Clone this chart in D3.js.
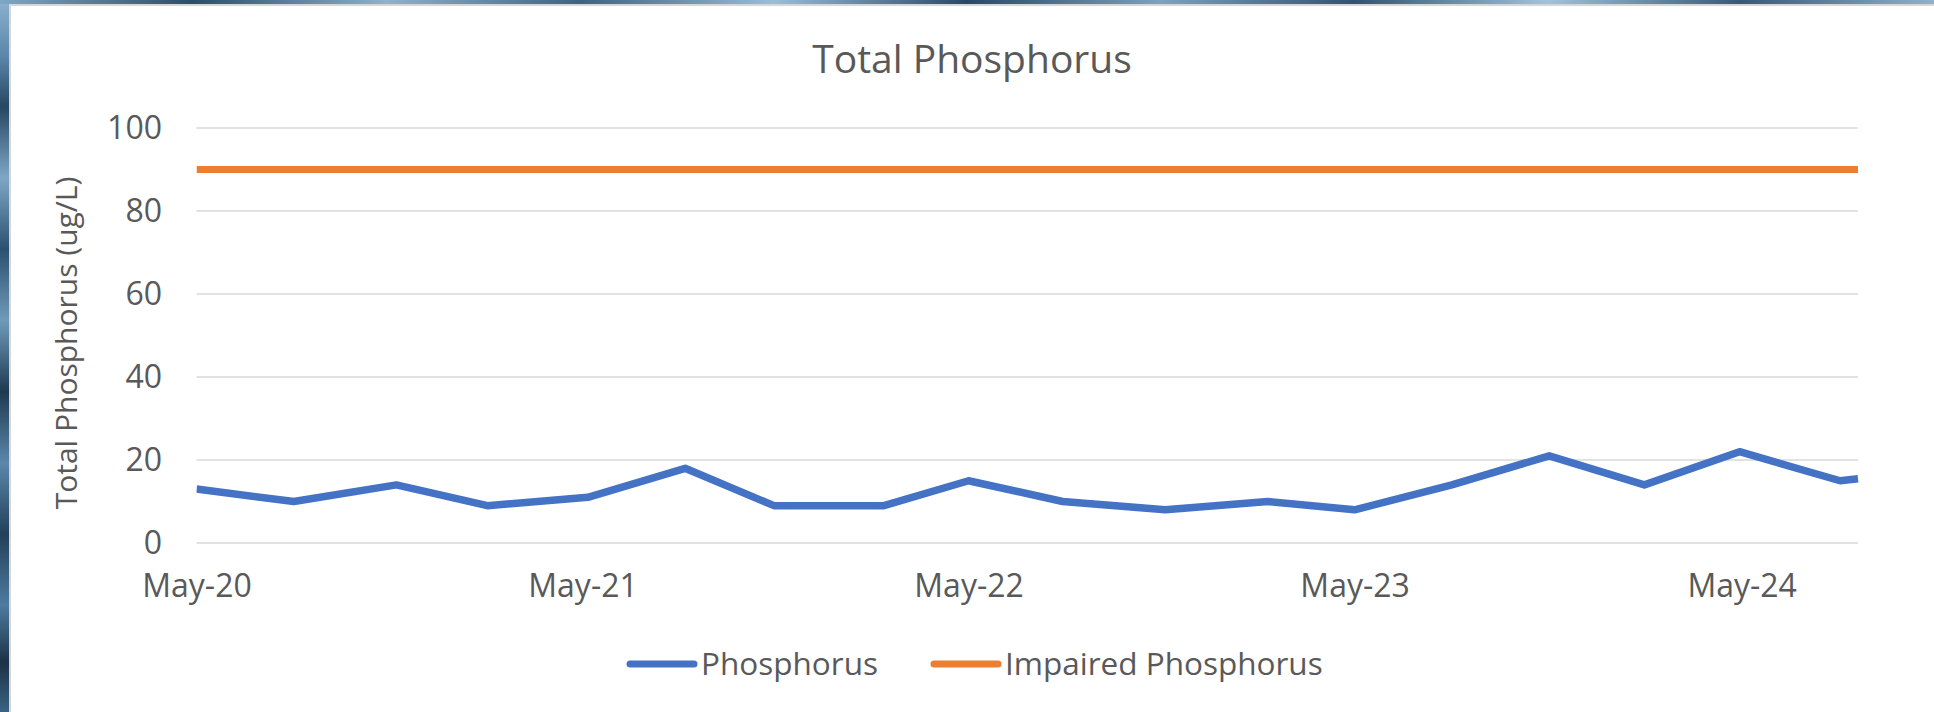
<!DOCTYPE html>
<html>
<head>
<meta charset="utf-8">
<script src="https://cdn.jsdelivr.net/npm/d3@7"></script>
<style>
  html, body { margin: 0; padding: 0; background: #ffffff; }
  svg { display: block; }
  text { font-family: "Open Sans", "Noto Sans", sans-serif; fill: #595959; }
</style>
</head>
<body>
<svg id="chart" width="1934" height="712"></svg>
<script>
// ---------------- data ----------------
const chartTitle = "Total Phosphorus";
const yAxisTitle = "Total Phosphorus (ug/L)";
const seriesNames = ["Phosphorus", "Impaired Phosphorus"];
const sampleDates = [
  "2020-05-01", "2020-08-01", "2020-11-06", "2021-01-31", "2021-05-06",
  "2021-08-06", "2021-10-29", "2022-02-10", "2022-05-01", "2022-07-29",
  "2022-11-03", "2023-02-08", "2023-05-01", "2023-08-01", "2023-11-01",
  "2024-01-30", "2024-04-29", "2024-08-02", "2024-08-19"
];
const phosphorusValues = [13, 10, 14, 9, 11, 18, 9, 9, 15, 10, 8, 10, 8, 14, 21, 14, 22, 15, 15.5];
const impairedValues   = [90, 90, 90, 90, 90, 90, 90, 90, 90, 90, 90, 90, 90, 90, 90, 90, 90, 90, 90];
const xTickLabels = ["May-20", "May-21", "May-22", "May-23", "May-24"];
const yTickValues = [0, 20, 40, 60, 80, 100];

// ---------------- layout ----------------
const W = 1934, H = 712;
const plot = { left: 196.5, right: 1858, top: 128, bottom: 543 };
const colors = { blue: "#4472C4", orange: "#ED7D31", grid: "#D9D9D9" };

const svg = d3.select("#chart");
svg.append("rect").attr("width", W).attr("height", H).attr("fill", "#ffffff");

// window-like textured edge (left + top)
const defs = svg.append("defs");
const gL = defs.append("linearGradient").attr("id", "edgeV").attr("x1", 0).attr("y1", 0).attr("x2", 0).attr("y2", 1);
[["0", "#8db2cf"], ["0.08", "#5a86aa"], ["0.15", "#274763"], ["0.25", "#7ea7c6"], ["0.35", "#2c5070"],
 ["0.45", "#6f9aba"], ["0.55", "#1f3a52"], ["0.65", "#5b87aa"], ["0.75", "#23405a"], ["0.85", "#4e7ba0"],
 ["0.93", "#1c3246"], ["1", "#3a6384"]].forEach(([o, c]) => gL.append("stop").attr("offset", o).attr("stop-color", c));
const gT = defs.append("linearGradient").attr("id", "edgeH").attr("x1", 0).attr("y1", 0).attr("x2", 1).attr("y2", 0);
[["0", "#7ea7c6"], ["0.1", "#2c4d6b"], ["0.2", "#8db2cf"], ["0.3", "#3b6384"], ["0.4", "#9bbdd6"],
 ["0.5", "#2a4863"], ["0.6", "#7aa2c2"], ["0.7", "#2f5374"], ["0.8", "#a3c2da"], ["0.9", "#34597a"], ["1", "#8eb2ce"]]
 .forEach(([o, c]) => gT.append("stop").attr("offset", o).attr("stop-color", c));
svg.append("rect").attr("x", 0).attr("y", 0).attr("width", 9).attr("height", H).attr("fill", "url(#edgeV)");
svg.append("rect").attr("x", 0).attr("y", 0).attr("width", W).attr("height", 4).attr("fill", "url(#edgeH)");
svg.append("rect").attr("x", 9).attr("y", 4).attr("width", 2).attr("height", H - 4).attr("fill", "#d6d6d6");
svg.append("rect").attr("x", 9).attr("y", 4).attr("width", W - 9).attr("height", 2).attr("fill", "#d6d6d6");

// ---------------- scales ----------------
const parseDate = d3.timeParse("%Y-%m-%d");
const dates = sampleDates.map(parseDate);
const x = d3.scaleTime().domain(d3.extent(dates)).range([plot.left, plot.right]);
const y = d3.scaleLinear().domain([0, 100]).range([plot.bottom, plot.top]);
const parseTick = d3.timeParse("%b-%y");
const xTicks = xTickLabels.map(parseTick);

// gridlines
svg.append("g").selectAll("line").data(yTickValues).join("line")
  .attr("x1", plot.left).attr("x2", plot.right)
  .attr("y1", d => y(d)).attr("y2", d => y(d))
  .attr("stroke", colors.grid).attr("stroke-width", 1.6);

// y axis
const yAxis = svg.append("g").attr("transform", `translate(${plot.left},0)`)
  .call(d3.axisLeft(y).tickValues(yTickValues).tickSize(0).tickPadding(34.5));
yAxis.select(".domain").remove();
yAxis.selectAll("text").style("font-size", "32px").attr("fill", "#595959")
  .style("font-family", '"Open Sans", sans-serif');

// x axis
const xAxis = svg.append("g").attr("transform", `translate(0,${plot.bottom})`)
  .call(d3.axisBottom(x).tickValues(xTicks).tickSize(0).tickPadding(31.5)
    .tickFormat((d, i) => xTickLabels[i]));
xAxis.select(".domain").remove();
xAxis.selectAll("text").style("font-size", "32px").attr("fill", "#595959")
  .style("font-family", '"Open Sans", sans-serif');

// clip
defs.append("clipPath").attr("id", "plotClip").append("rect")
  .attr("x", plot.left).attr("y", 0).attr("width", plot.right - plot.left + 2).attr("height", H);

const line = d3.line().x(d => x(d[0])).y(d => y(d[1]));
const g = svg.append("g").attr("clip-path", "url(#plotClip)");
g.append("path").datum(dates.map((d, i) => [d, impairedValues[i]]))
  .attr("d", line).attr("fill", "none").attr("stroke", colors.orange).attr("stroke-width", 7);
g.append("path").datum(dates.map((d, i) => [d, phosphorusValues[i]]))
  .attr("d", line).attr("fill", "none").attr("stroke", colors.blue).attr("stroke-width", 7.5)
  .attr("stroke-linejoin", "round");

// title
svg.append("text").attr("x", 972).attr("y", 73).attr("text-anchor", "middle")
  .style("font-size", "39px").text(chartTitle);

// y axis title
svg.append("text").attr("transform", "translate(65,343) rotate(-90)")
  .attr("text-anchor", "middle").attr("dominant-baseline", "central")
  .style("font-size", "30px").text(yAxisTitle);

// legend
const legend = [
  { name: seriesNames[0], color: colors.blue, x0: 627 },
  { name: seriesNames[1], color: colors.orange, x0: 931 }
];
const lg = svg.append("g");
legend.forEach(l => {
  lg.append("line").attr("x1", l.x0 + 3).attr("x2", l.x0 + 67).attr("y1", 664).attr("y2", 664)
    .attr("stroke", l.color).attr("stroke-width", 7).attr("stroke-linecap", "round");
  lg.append("text").attr("x", l.x0 + 74).attr("y", 675).style("font-size", "31.5px").text(l.name);
});
</script>
</body>
</html>
